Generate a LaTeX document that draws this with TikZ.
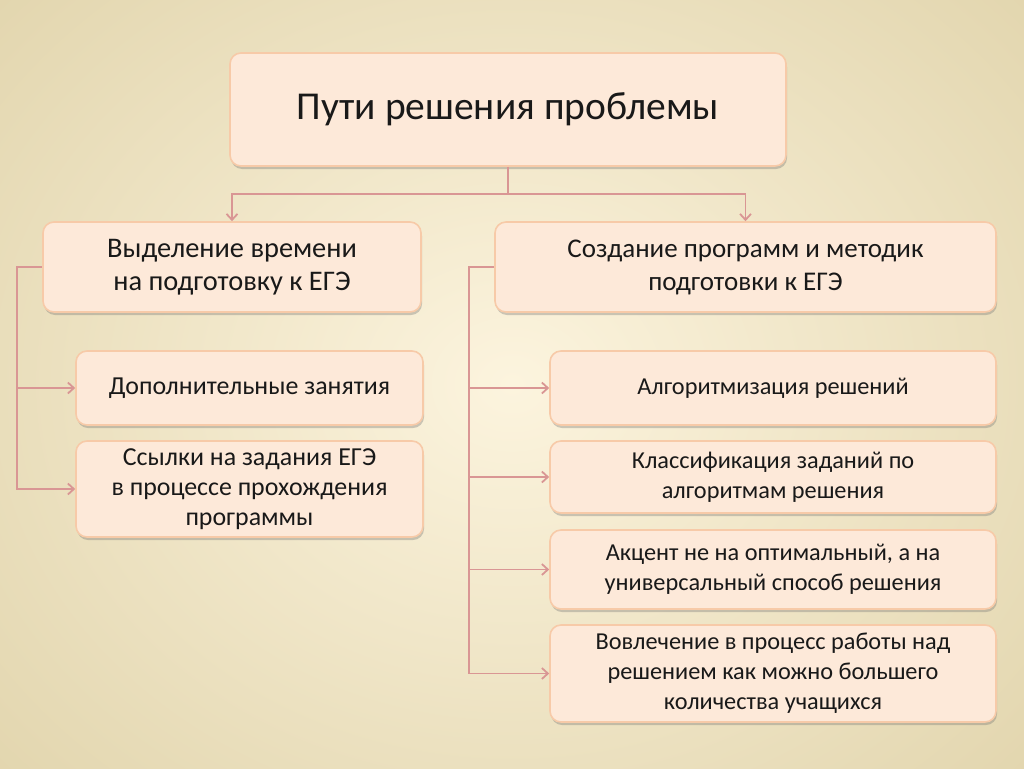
\documentclass[tikz,border=0pt]{standalone}
\usepackage{fontspec}
\setmainfont{Carlito}
\usetikzlibrary{shadows,arrows.meta}
\definecolor{bgin}{RGB}{252,244,222}
\definecolor{bgout}{RGB}{224,211,170}
\definecolor{boxfill}{RGB}{253,233,217}
\definecolor{boxdraw}{RGB}{247,202,168}
\definecolor{conncol}{RGB}{217,150,148}
\tikzset{
  box/.style={rectangle, rounded corners=11pt, fill=boxfill, draw=boxdraw, line width=1.6pt,
    align=center, inner sep=2pt, text=black!90,
    drop shadow={shadow xshift=1pt, shadow yshift=-3pt, opacity=0.35, fill=black!55}},
  titlebox/.style={box, font=\fontsize{39.5}{46}\selectfont},
  mainbox/.style={box, font=\fontsize{27}{33}\selectfont},
  mainboxl/.style={box, font=\fontsize{28.4}{33}\selectfont},
  subbox/.style={box, font=\fontsize{24.3}{30}\selectfont},
  subboxl/.style={box, font=\fontsize{25.9}{30}\selectfont},
  conn/.style={draw=conncol, line width=1.8pt, -{Straight Barb[length=6pt,width=11pt]}},
}
\begin{document}
\begin{tikzpicture}[x=1pt,y=-1pt]
\useasboundingbox (0,0) rectangle (1024,768);
\shade[inner color=bgin, outer color=bgout] (-250,-250) rectangle (1274,1018);
\node[titlebox, minimum width=556pt, minimum height=113pt] (top) at (508,109.5) {Пути решения проблемы};
\node[mainboxl, minimum width=378pt, minimum height=90pt] (L1) at (232,267) {Выделение времени\\на подготовку к ЕГЭ};
\node[subboxl, minimum width=347pt, minimum height=74pt] (L2) at (249.5,388) {Дополнительные занятия};
\node[subboxl, minimum width=347pt, minimum height=96pt] (L3) at (249.5,489) {Ссылки на задания ЕГЭ\\в процессе прохождения\\программы};
\node[mainbox, minimum width=501pt, minimum height=90pt] (R1) at (745.5,267) {Создание программ и методик\\подготовки к ЕГЭ};
\node[subbox, minimum width=446pt, minimum height=74pt] (R2) at (773,388) {Алгоритмизация решений};
\node[subbox, minimum width=446pt, minimum height=72pt] (R3) at (773,477) {Классификация заданий по\\алгоритмам решения};
\node[subbox, minimum width=446pt, minimum height=79pt] (R4) at (773,569.5) {Акцент не на оптимальный, а на\\универсальный способ решения};
\node[subbox, minimum width=446pt, minimum height=97pt] (R5) at (773,673.5) {Вовлечение в процесс работы над\\решением как можно большего\\количества учащихся};
\draw[conn] (top.south) -- ++(0,27) coordinate (j) -| (L1.north);
\draw[conn] (j) -| (R1.north);
\draw[conn] (L1.west) -- ++(-25,0) coordinate (lj) |- (L2.west);
\draw[conn] (lj) |- (L3.west);
\draw[conn] (R1.west) -- ++(-25,0) coordinate (rj) |- (R2.west);
\draw[conn] (rj) |- (R3.west);
\draw[conn] (rj) |- (R4.west);
\draw[conn] (rj) |- (R5.west);
\end{tikzpicture}
\end{document}
